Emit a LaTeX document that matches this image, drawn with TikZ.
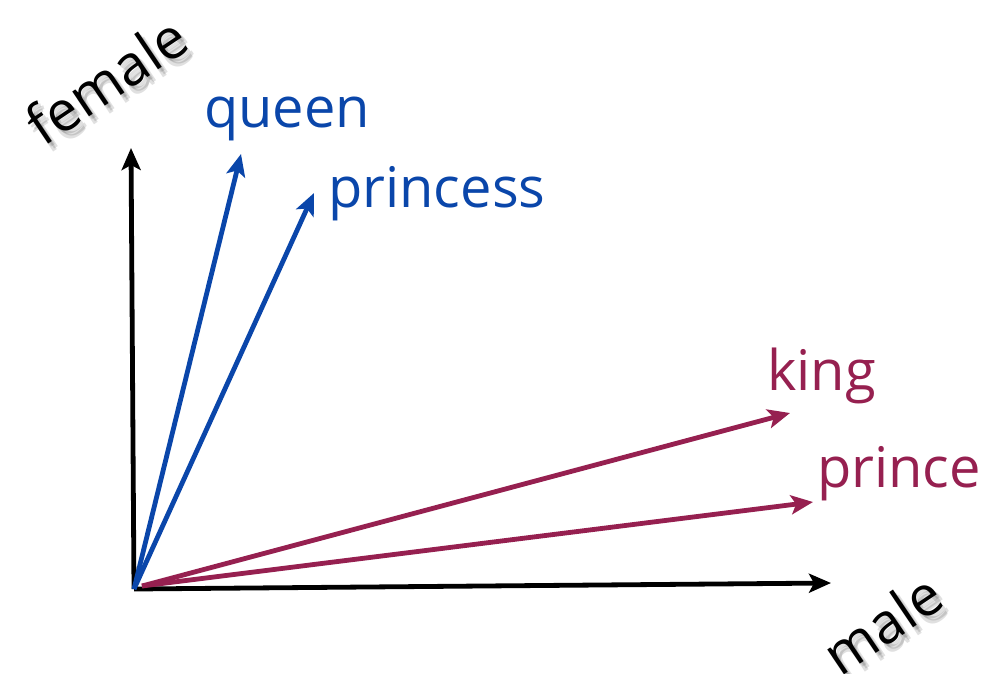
\documentclass[tikz,border=0pt]{standalone}
\usepackage{fontspec}
\setmainfont{Open Sans}
\usetikzlibrary{arrows.meta}
\definecolor{qblue}{RGB}{10,70,170}
\definecolor{kred}{RGB}{150,32,80}
\tikzset{
  vec/.style={line width=4.8pt,-{Stealth[length=22pt,width=19pt,inset=5pt]}},
  axis/.style={vec,black},
  word/.style={font=\fontsize{56}{60}\selectfont,inner sep=0pt,anchor=base west},
  axlabel/.style={font=\fontsize{56}{60}\selectfont,inner sep=0pt,text=black,rotate=34},
  shadowtext/.style={axlabel,opacity=0.12}
}
\begin{document}
\begin{tikzpicture}[x=1pt,y=-1pt]
\useasboundingbox[fill=white] (0,0) rectangle (998,673);
% coordinates
\coordinate (o) at (134,589);
\coordinate (ox) at (142,586);
\coordinate (yend) at (131,148);
\coordinate (xend) at (831,583);
\coordinate (qend) at (241,154);
\coordinate (pend) at (314,193);
\coordinate (kend) at (790,413);
\coordinate (prend) at (813,502);
% axes
\draw[axis] (o) -- (yend);
\draw[axis] (o) -- (xend);
% vectors
\draw[vec,qblue] (o) -- (qend);
\draw[vec,qblue] (o) -- (pend);
\draw[vec,kred] (ox) -- (kend);
\draw[vec,kred] (ox) -- (prend);
% labels
\node[word,text=qblue] (queen) at (204,127) {queen};
\node[word,text=qblue] (princess) at (328,207) {princess};
\node[word,text=kred] (king) at (767,390) {king};
\node[word,text=kred] (prince) at (817,487) {prince};
% shadowed axis labels
\foreach \dx/\dy in {3/3,6/5,5/8}{
  \node[shadowtext] at (106+\dx,80+\dy) {female};
  \node[shadowtext] at (882+\dx,624+\dy) {male};
}
\node[axlabel] (female) at (106,80) {female};
\node[axlabel] (male) at (882,624) {male};
\end{tikzpicture}
\end{document}
